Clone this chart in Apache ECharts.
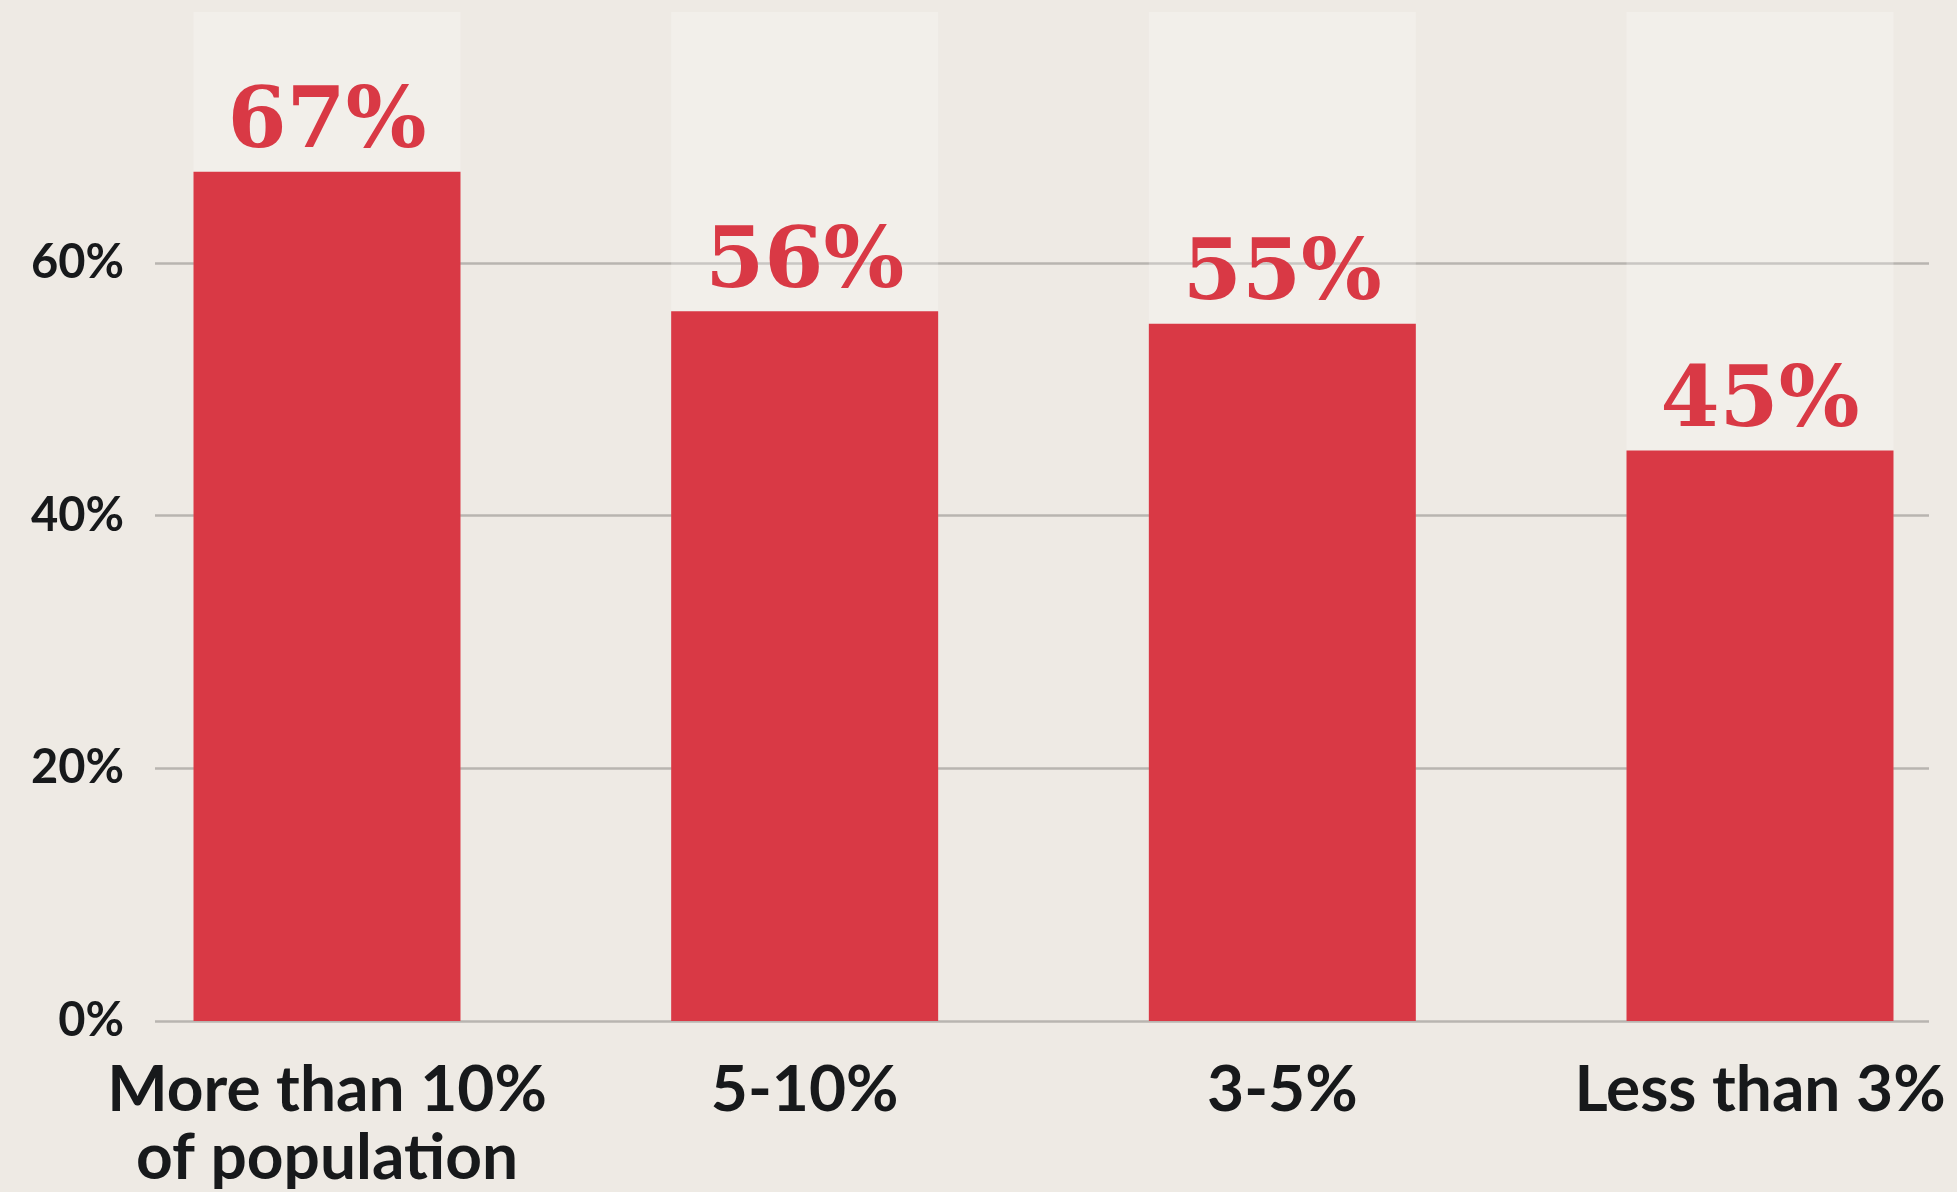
<!DOCTYPE html>
<html>
<head>
<meta charset="utf-8">
<script src="https://cdn.jsdelivr.net/npm/echarts@6/dist/echarts.min.js"></script>
<style>
  html, body { margin: 0; padding: 0; background: #eeeae4; }
  #chart { width: 1957px; height: 1192px; }
</style>
</head>
<body>
<div id="chart"></div>
<script>
// categories and values
const categories = ['More than 10%\nof population', '5-10%', '3-5%', 'Less than 3%'];
const shares = [67, 56, 55, 45];
const yTicks = [0, 20, 40, 60];
const yMax = 79.6; // where the pale backing columns stop

const chart = echarts.init(document.getElementById('chart'));

const option = {
  backgroundColor: '#eeeae4',
  animation: false,
  grid: [
    // grid for the gridlines and the y labels
    { left: 155, right: 28, top: 263, bottom: 171 },
    // grid for the bars: first and last bar centred on its edges
    { left: 327, right: 197, top: 12, bottom: 171 }
  ],
  xAxis: [
    { type: 'value', gridIndex: 0, show: false, min: 0, max: 1 },
    {
      type: 'category',
      gridIndex: 1,
      data: categories,
      boundaryGap: false,
      axisLine: { show: false },
      axisTick: { show: false },
      axisLabel: {
        color: '#17191b',
        fontFamily: 'Lato',
        fontWeight: 'bold',
        fontSize: 64,
        lineHeight: 68,
        margin: 35,
        interval: 0
      }
    }
  ],
  yAxis: [
    {
      type: 'value',
      gridIndex: 0,
      min: yTicks[0],
      max: yTicks[yTicks.length - 1],
      interval: 20,
      axisLine: { show: false },
      axisTick: { show: false },
      axisLabel: {
        formatter: '{value}%',
        color: '#17191b',
        fontFamily: 'Lato',
        fontWeight: 'bold',
        fontSize: 47,
        margin: 31
      },
      splitLine: { lineStyle: { color: '#b8b5b0', width: 2.5 } }
    },
    { type: 'value', gridIndex: 1, min: 0, max: yMax, show: false }
  ],
  series: [
    {
      type: 'bar',
      xAxisIndex: 1,
      yAxisIndex: 1,
      data: shares,
      barWidth: 267,
      clip: false,
      itemStyle: { color: '#d93945' },
      showBackground: true,
      backgroundStyle: { color: 'rgba(255,255,255,0.24)' },
      label: {
        show: true,
        position: 'top',
        distance: 4,
        formatter: '{c}%',
        color: '#d93945',
        fontFamily: 'DejaVu Serif',
        fontWeight: 'bold',
        fontSize: 85
      }
    }
  ]
};

chart.setOption(option);
</script>
</body>
</html>
